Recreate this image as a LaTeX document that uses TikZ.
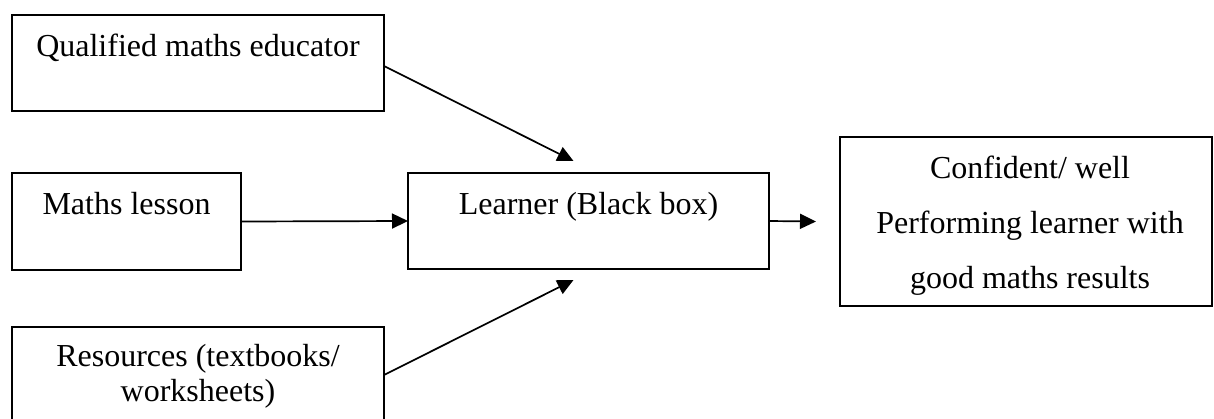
\documentclass[tikz,border=0pt]{standalone}
\usepackage{fontspec}
\setmainfont{Liberation Serif}
\usetikzlibrary{arrows.meta}
\tikzset{
  box/.style={draw, rectangle, line width=1pt, inner sep=0pt, outer sep=0pt},
  lbl/.style={font=\fontsize{16}{20}\selectfont, anchor=base, inner sep=0pt, outer sep=0pt},
  link/.style={draw, line width=0.85pt, -{Triangle[length=8pt,width=7.5pt]}}
}
\begin{document}
\begin{tikzpicture}[x=0.5pt,y=-0.5pt]
\useasboundingbox (0,0) rectangle (1214,418);
\clip (0,0) rectangle (1214,418);

% boxes
\node[box, minimum width=186pt, minimum height=48pt]   (edu)     at (198,63) {};
\node[box, minimum width=114.5pt, minimum height=48.5pt] (lesson) at (126.5,221.5) {};
\node[box, minimum width=186pt, minimum height=48pt]   (res)     at (198,375) {};
\node[box, minimum width=180.5pt, minimum height=48pt] (learner) at (588.5,221) {};
\node[box, minimum width=186pt, minimum height=84.5pt] (result)  at (1026,221.5) {};

% labels, set near the top of each box
\node[lbl] (edutxt)     at ([yshift=-20.5pt]edu.north)     {Qualified maths educator};
\node[lbl] (lessontxt)  at ([yshift=-20.5pt]lesson.north)  {Maths lesson};
\node[lbl] (learnertxt) at ([yshift=-20.5pt]learner.north) {Learner (Black box)};
\node[lbl] (restxta)    at ([yshift=-19.5pt]res.north)     {Resources (textbooks/};
\node[lbl] (restxtb)    at ([yshift=-37pt]res.north)       {worksheets)};
\node[lbl] (resulta)    at ([xshift=2pt,yshift=-20.5pt]result.north) {Confident/ well};
\node[lbl] (resultb)    at ([xshift=2pt,yshift=-48pt]result.north)   {Performing learner with};
\node[lbl] (resultc)    at ([xshift=2pt,yshift=-75.5pt]result.north) {good maths results};

% connectors
\draw[link] ([yshift=-1.5pt]edu.east) -- ([xshift=-7.5pt,yshift=6pt]learner.north);
\draw[link] (lesson.east) -- (learner.west);
\draw[link] (res.east) -- ([xshift=-7.5pt,yshift=-5.5pt]learner.south);
\draw[link] (learner.east) -- ([xshift=-12pt]result.west);
\end{tikzpicture}
\end{document}
